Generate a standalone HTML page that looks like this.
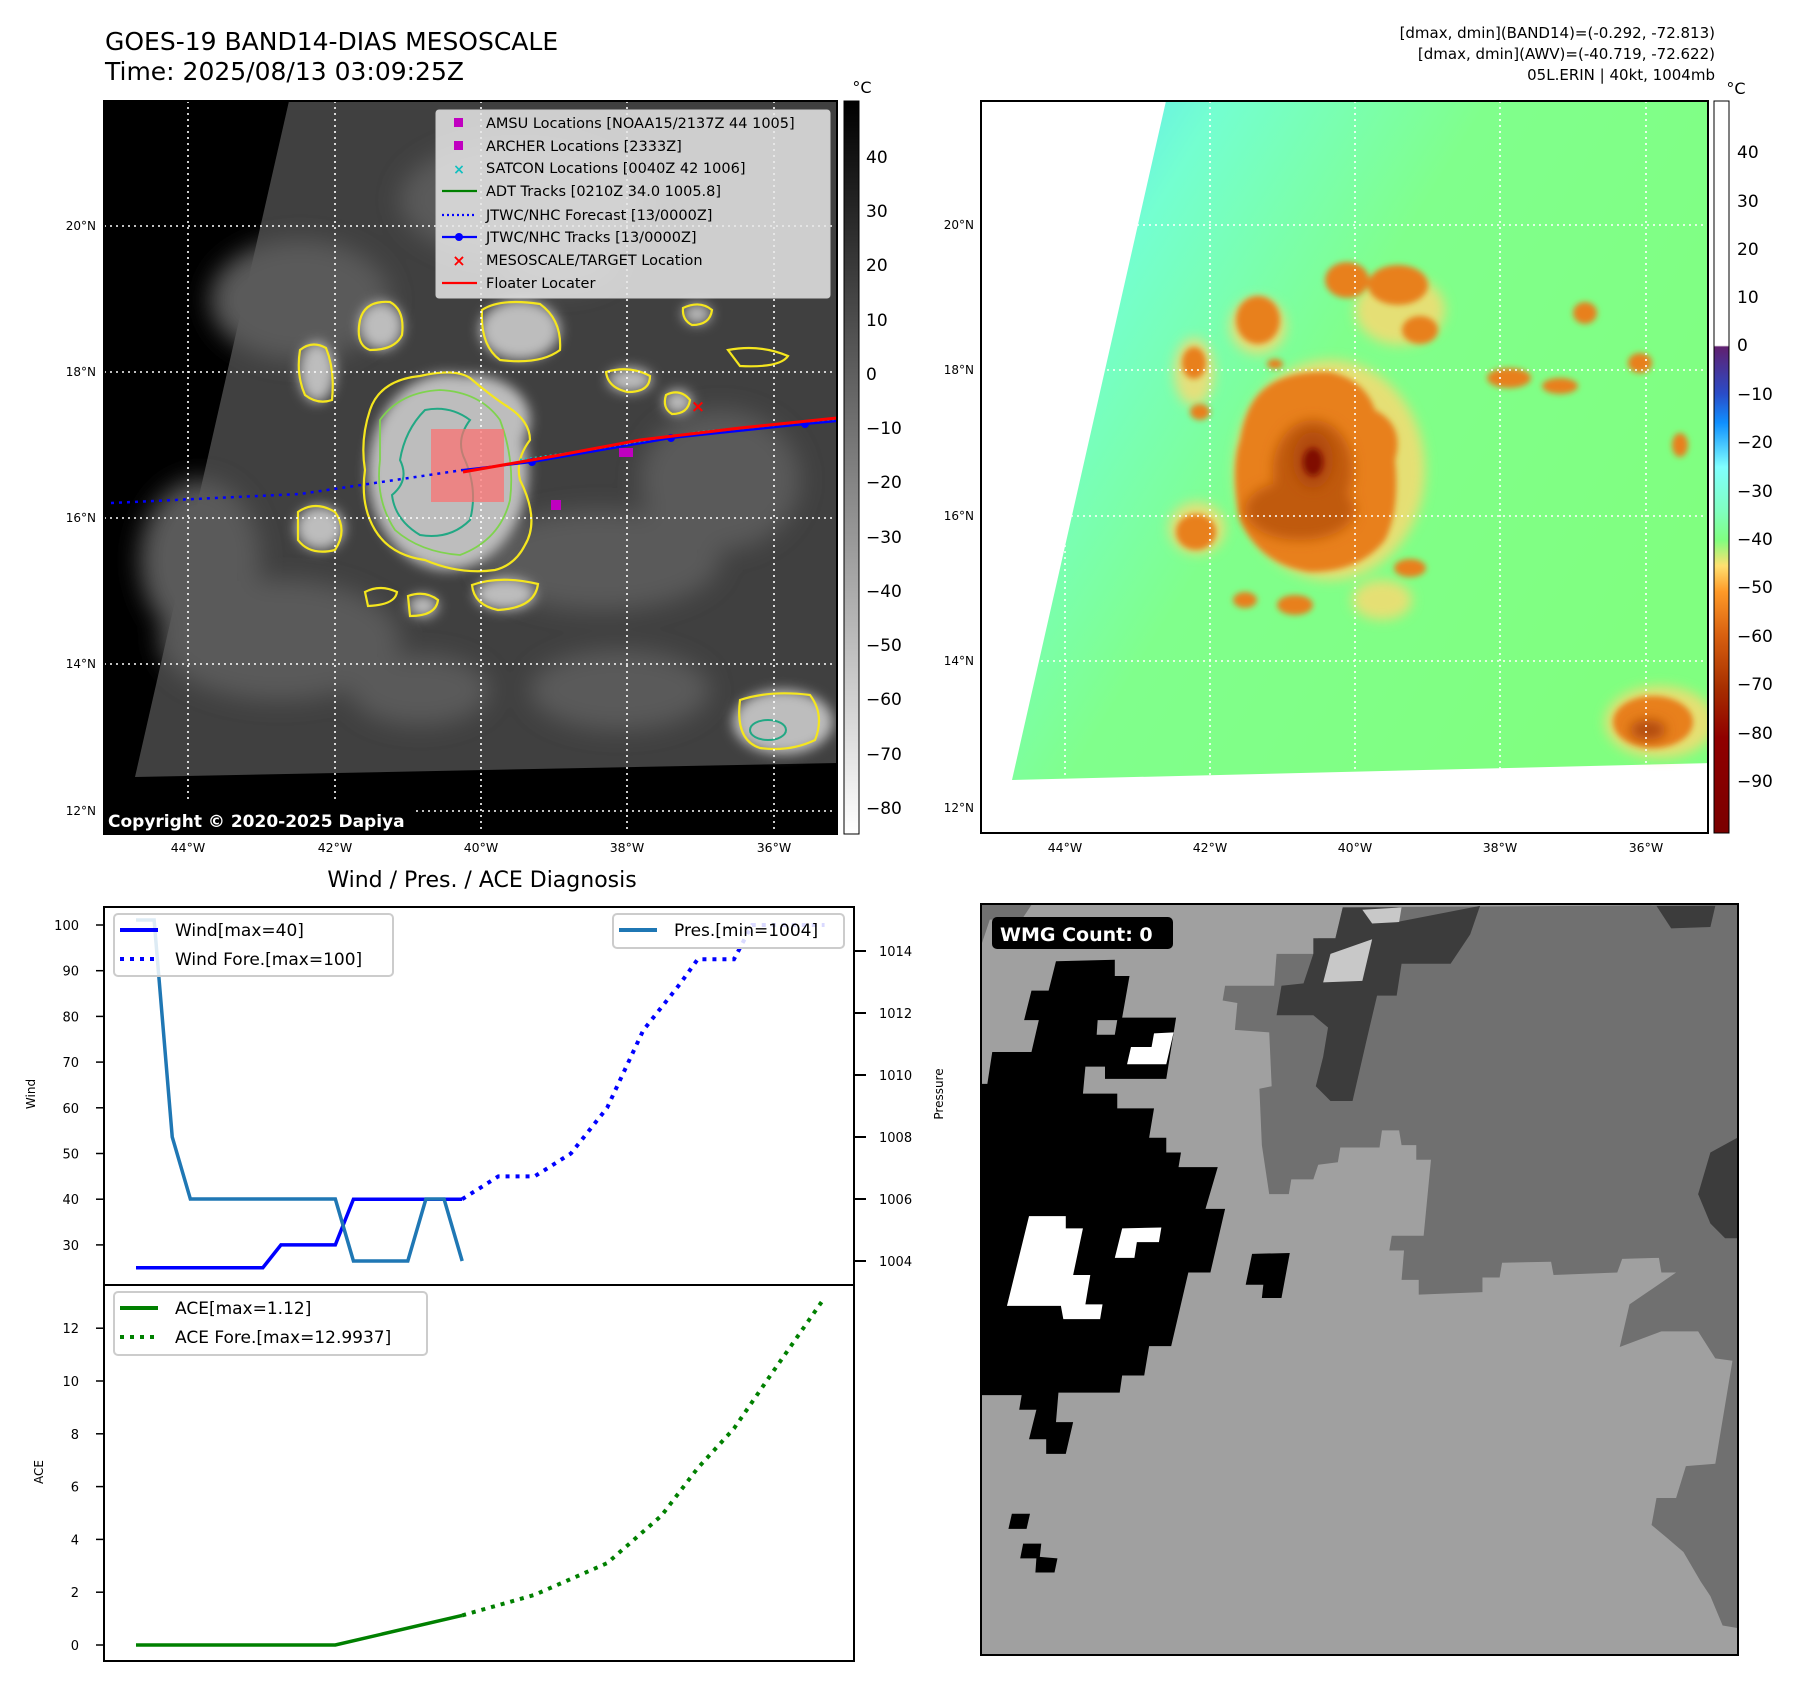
<!DOCTYPE html>
<html><head><meta charset="utf-8">
<style>
html,body{margin:0;padding:0;background:#fff;}
svg{display:block;font-family:"DejaVu Sans","Liberation Sans",sans-serif;}
</style></head>
<body>
<svg id="fig" width="1797" height="1690" viewBox="0 0 1797 1690" xmlns="http://www.w3.org/2000/svg">
<defs>
  <filter id="blur6" x="-50%" y="-50%" width="200%" height="200%"><feGaussianBlur stdDeviation="6"/></filter>
  <filter id="blur12" x="-50%" y="-50%" width="200%" height="200%"><feGaussianBlur stdDeviation="12"/></filter>
  <filter id="blur3" x="-50%" y="-50%" width="200%" height="200%"><feGaussianBlur stdDeviation="3"/></filter>
  <linearGradient id="cbL" x1="0" y1="0" x2="0" y2="1">
    <stop offset="0" stop-color="#000"/><stop offset="1" stop-color="#fff"/>
  </linearGradient>
  <linearGradient id="cbR" x1="0" y1="0" x2="0" y2="1">
    <stop offset="0" stop-color="#fff"/><stop offset="0.334" stop-color="#fff"/>
    <stop offset="0.336" stop-color="#602070"/><stop offset="0.40" stop-color="#2a4cc8"/>
    <stop offset="0.44" stop-color="#1090ff"/><stop offset="0.50" stop-color="#80ffff"/>
    <stop offset="0.56" stop-color="#80ffc0"/><stop offset="0.60" stop-color="#80ff80"/>
    <stop offset="0.635" stop-color="#ffe070"/><stop offset="0.67" stop-color="#ff9a28"/>
    <stop offset="0.73" stop-color="#d86010"/><stop offset="0.80" stop-color="#a83000"/>
    <stop offset="0.87" stop-color="#900000"/><stop offset="1" stop-color="#7a0000"/>
  </linearGradient>
  <linearGradient id="ocean" x1="0" y1="0" x2="1" y2="0.6">
    <stop offset="0" stop-color="#58dcff"/><stop offset="0.22" stop-color="#74ffd0"/>
    <stop offset="0.5" stop-color="#80ff8c"/><stop offset="1" stop-color="#80ff80"/>
  </linearGradient>
  <clipPath id="clipL"><rect x="104" y="101" width="733" height="733"/></clipPath>
  <clipPath id="clipR"><rect x="981" y="101" width="727" height="732"/></clipPath>
  <clipPath id="clipW"><rect x="981" y="904" width="757" height="751"/></clipPath>
</defs>

<!-- Titles -->
<text x="105" y="50" font-size="25">GOES-19 BAND14-DIAS MESOSCALE</text>
<text x="105" y="80" font-size="25">Time: 2025/08/13 03:09:25Z</text>
<g font-size="15" text-anchor="end">
  <text x="1715" y="38">[dmax, dmin](BAND14)=(-0.292, -72.813)</text>
  <text x="1715" y="59">[dmax, dmin](AWV)=(-40.719, -72.622)</text>
  <text x="1715" y="80">05L.ERIN | 40kt, 1004mb</text>
</g>

<!-- LEFT MAP -->
<g clip-path="url(#clipL)">
  <rect x="104" y="101" width="733" height="733" fill="#000"/>
  <polygon points="289,101 837,101 837,763 135,777" fill="#404040"/>
  <g filter="url(#blur12)" fill="#5a5a5a">
    <ellipse cx="300" cy="300" rx="90" ry="60"/><ellipse cx="600" cy="560" rx="120" ry="50"/>
    <ellipse cx="280" cy="640" rx="120" ry="60"/><ellipse cx="620" cy="690" rx="90" ry="40"/>
    <ellipse cx="520" cy="200" rx="120" ry="60"/><ellipse cx="720" cy="480" rx="80" ry="70"/>
    <ellipse cx="200" cy="560" rx="60" ry="80"/>
    <ellipse cx="560" cy="260" rx="60" ry="30"/><ellipse cx="420" cy="690" rx="70" ry="35"/>
  </g>
  <g filter="url(#blur6)" fill="#bdbdbd">
    <ellipse cx="448" cy="472" rx="80" ry="98"/><ellipse cx="470" cy="420" rx="60" ry="45"/>
    <ellipse cx="381" cy="326" rx="22" ry="24"/><ellipse cx="520" cy="330" rx="40" ry="30"/>
    <ellipse cx="317" cy="372" rx="18" ry="30"/><ellipse cx="320" cy="528" rx="24" ry="22"/>
    <ellipse cx="783" cy="722" rx="50" ry="32"/><ellipse cx="630" cy="380" rx="22" ry="12"/>
    <ellipse cx="678" cy="402" rx="14" ry="12"/><ellipse cx="697" cy="314" rx="14" ry="10"/>
    <ellipse cx="505" cy="594" rx="30" ry="16"/><ellipse cx="423" cy="606" rx="15" ry="11"/>
  </g>
  <g fill="none" stroke="#f5e61e" stroke-width="2.2">
    <path d="M370,410 Q380,380 420,376 Q455,368 470,378 Q490,395 505,405 Q530,420 530,440 Q515,460 520,480 Q540,520 525,545 Q515,565 495,570 Q460,575 425,560 Q390,555 375,530 Q360,505 365,470 Q360,440 370,410Z"/>
    <path d="M360,320 Q365,300 390,302 Q405,310 402,335 Q395,350 370,350 Q355,345 360,320Z"/>
    <path d="M482,310 Q500,298 540,304 Q562,320 560,350 Q540,365 500,360 Q480,345 482,310Z"/>
    <path d="M300,350 Q312,340 326,348 Q335,370 332,400 Q318,405 305,395 Q296,375 300,350Z"/>
    <path d="M298,512 Q315,500 335,512 Q348,530 335,550 Q310,556 298,540Z"/>
    <path d="M740,700 Q770,690 810,695 Q825,715 815,740 Q790,752 760,748 Q735,740 740,700Z"/>
    <path d="M606,372 Q630,365 650,376 Q650,392 628,392 Q608,388 606,372Z"/>
    <path d="M666,395 Q680,388 690,400 Q688,414 672,414 Q662,408 666,395Z"/>
    <path d="M683,308 Q700,300 712,310 Q710,325 692,325 Q682,320 683,308Z"/>
    <path d="M728,350 Q760,344 788,356 Q780,368 740,366Z"/>
    <path d="M365,592 Q380,584 397,592 Q395,605 368,606Z"/>
    <path d="M408,596 Q425,590 438,600 Q436,616 410,616Z"/>
    <path d="M472,585 Q500,575 538,584 Q535,608 498,610 Q474,605 472,585Z"/>
  </g>
  <g fill="none" stroke="#7fd34e" stroke-width="1.8">
    <path d="M380,420 Q400,392 440,390 Q480,392 500,420 Q515,460 510,500 Q500,540 460,555 Q420,552 395,530 Q375,500 380,460Z"/>
  </g>
  <g fill="none" stroke="#22a884" stroke-width="2">
    <path d="M425,410 Q450,405 470,420 Q455,440 465,460 Q478,490 470,520 Q450,540 420,535 Q395,520 392,495 Q410,480 400,460 Q405,430 425,410Z"/>
    <ellipse cx="768" cy="730" rx="18" ry="10"/>
  </g>
  <g stroke="#fff" stroke-width="1.6" stroke-dasharray="2,4">
    <line x1="188" y1="101" x2="188" y2="834"/><line x1="335" y1="101" x2="335" y2="834"/>
    <line x1="481" y1="101" x2="481" y2="834"/><line x1="627" y1="101" x2="627" y2="834"/>
    <line x1="774" y1="101" x2="774" y2="834"/>
    <line x1="104" y1="226" x2="837" y2="226"/><line x1="104" y1="372" x2="837" y2="372"/>
    <line x1="104" y1="518" x2="837" y2="518"/><line x1="104" y1="664" x2="837" y2="664"/>
    <line x1="104" y1="811" x2="837" y2="811"/>
  </g>
  <rect x="431" y="429" width="73" height="73" fill="rgb(255,110,110)" fill-opacity="0.7"/>
  <polyline points="111,503 300,494 463,470" fill="none" stroke="#0000ff" stroke-width="2.5" stroke-dasharray="3,5"/>
  <polyline points="520,460 620,446 700,432 837,419" fill="none" stroke="#10c0c0" stroke-width="2.5" stroke-dasharray="2,3"/>
  <polyline points="463,470 532,462 671,438 805,424 837,421" fill="none" stroke="#0000ff" stroke-width="2.2"/>
  <g fill="#0000ff"><circle cx="532" cy="462" r="4"/><circle cx="671" cy="438" r="4"/><circle cx="805" cy="424" r="4"/></g>
  <polyline points="463,472 560,455 640,440 740,428 837,418" fill="none" stroke="#ff0000" stroke-width="3"/>
  <rect x="551" y="500" width="10" height="10" fill="#c000c0"/>
  <rect x="619" y="448" width="14" height="9" fill="#c000c0"/>
  <text x="698" y="412" font-size="17" font-weight="bold" fill="#ff0000" text-anchor="middle">×</text>
  <g>
    <rect x="436" y="110" width="394" height="188" rx="3" fill="#e8e8e8" fill-opacity="0.85" stroke="#ccc"/>
    <g font-size="14.5" fill="#000">
      <rect x="454" y="118" width="9" height="9" fill="#c000c0"/><text x="486" y="128">AMSU Locations [NOAA15/2137Z 44 1005]</text>
      <rect x="454" y="141" width="9" height="9" fill="#c000c0"/><text x="486" y="151">ARCHER Locations [2333Z]</text>
      <text x="459" y="174" font-size="14" font-weight="bold" fill="#10c0c0" text-anchor="middle">×</text><text x="486" y="173">SATCON Locations [0040Z 42 1006]</text>
      <line x1="442" y1="191" x2="477" y2="191" stroke="#008000" stroke-width="2.2"/><text x="486" y="196">ADT Tracks [0210Z 34.0 1005.8]</text>
      <line x1="442" y1="215" x2="477" y2="215" stroke="#0000ff" stroke-width="2.2" stroke-dasharray="2,3"/><text x="486" y="220">JTWC/NHC Forecast [13/0000Z]</text>
      <line x1="442" y1="237" x2="477" y2="237" stroke="#0000ff" stroke-width="2.2"/><circle cx="459" cy="237" r="4" fill="#0000ff"/><text x="486" y="242">JTWC/NHC Tracks [13/0000Z]</text>
      <text x="459" y="266" font-size="16" font-weight="bold" fill="#ff0000" text-anchor="middle">×</text><text x="486" y="265">MESOSCALE/TARGET Location</text>
      <line x1="442" y1="283" x2="477" y2="283" stroke="#ff0000" stroke-width="2.2"/><text x="486" y="288">Floater Locater</text>
    </g>
  </g>
  <rect x="102" y="803" width="311" height="30" rx="4" fill="#000"/>
  <text x="108" y="827" font-size="17" font-weight="bold" fill="#fff">Copyright © 2020-2025 Dapiya</text>
</g>
<rect x="104" y="101" width="733" height="733" fill="none" stroke="#000" stroke-width="2"/>
<g font-size="12" text-anchor="end">
  <text x="96" y="230">20°N</text><text x="96" y="376">18°N</text><text x="96" y="522">16°N</text><text x="96" y="668">14°N</text><text x="96" y="815">12°N</text>
</g>
<g font-size="12.5" text-anchor="middle">
  <text x="188" y="852">44°W</text><text x="335" y="852">42°W</text><text x="481" y="852">40°W</text><text x="627" y="852">38°W</text><text x="774" y="852">36°W</text>
</g>
<g>
  <rect x="844" y="101" width="15" height="733" fill="url(#cbL)" stroke="#000" stroke-width="1"/>
  <text x="862" y="93" font-size="16" text-anchor="middle">°C</text>
  <g font-size="17">
    <text x="866" y="163">40</text><text x="866" y="217">30</text><text x="866" y="271">20</text><text x="866" y="326">10</text>
    <text x="866" y="380">0</text><text x="866" y="434">−10</text><text x="866" y="488">−20</text><text x="866" y="543">−30</text>
    <text x="866" y="597">−40</text><text x="866" y="651">−50</text><text x="866" y="705">−60</text><text x="866" y="760">−70</text><text x="866" y="814">−80</text>
  </g>
</g>

<!-- RIGHT MAP -->
<g clip-path="url(#clipR)">
  <rect x="981" y="101" width="727" height="732" fill="#fff"/>
  <polygon points="1166,101 1714,101 1714,763 1012,780" fill="url(#ocean)"/>
  <g filter="url(#blur6)" fill="#ffd870" opacity="0.8">
    <ellipse cx="1330" cy="470" rx="95" ry="110"/><ellipse cx="1258" cy="326" rx="28" ry="28"/>
    <ellipse cx="1400" cy="310" rx="45" ry="35"/><ellipse cx="1194" cy="372" rx="20" ry="34"/>
    <ellipse cx="1197" cy="528" rx="28" ry="26"/><ellipse cx="1660" cy="722" rx="55" ry="36"/>
    <ellipse cx="1382" cy="600" rx="30" ry="20"/>
  </g>
  <g filter="url(#blur3)" fill="#e8801c">
    <path d="M1258,395 Q1280,370 1330,372 Q1365,380 1375,410 Q1405,425 1395,460 Q1400,510 1385,540 Q1360,572 1310,572 Q1260,565 1240,520 Q1230,470 1240,440 Q1245,410 1258,395Z"/>
    <ellipse cx="1258" cy="320" rx="22" ry="24"/><ellipse cx="1194" cy="363" rx="12" ry="16"/>
    <ellipse cx="1196" cy="532" rx="20" ry="18"/><ellipse cx="1653" cy="722" rx="40" ry="26"/>
    <ellipse cx="1200" cy="412" rx="10" ry="8"/><ellipse cx="1275" cy="364" rx="8" ry="5"/>
    <ellipse cx="1410" cy="568" rx="16" ry="9"/><ellipse cx="1295" cy="605" rx="18" ry="10"/>
    <ellipse cx="1245" cy="600" rx="12" ry="8"/><ellipse cx="1509" cy="378" rx="22" ry="10"/>
    <ellipse cx="1560" cy="386" rx="18" ry="8"/><ellipse cx="1585" cy="313" rx="12" ry="11"/>
    <ellipse cx="1640" cy="363" rx="12" ry="10"/><ellipse cx="1398" cy="285" rx="30" ry="20"/>
    <ellipse cx="1347" cy="280" rx="22" ry="18"/><ellipse cx="1680" cy="445" rx="8" ry="12"/>
    <ellipse cx="1420" cy="330" rx="18" ry="14"/>
  </g>
  <g filter="url(#blur6)" fill="#c05a10">
    <ellipse cx="1313" cy="470" rx="40" ry="50"/><ellipse cx="1300" cy="510" rx="55" ry="30"/>
  </g>
  <g filter="url(#blur6)" fill="#b04a0c">
    <ellipse cx="1313" cy="460" rx="20" ry="28"/><ellipse cx="1648" cy="730" rx="18" ry="10"/>
  </g>
  <ellipse cx="1313" cy="462" rx="10" ry="14" fill="#800800" filter="url(#blur3)"/>
  <g stroke="#fff" stroke-width="1.6" stroke-dasharray="2,4">
    <line x1="1065" y1="101" x2="1065" y2="833"/><line x1="1210" y1="101" x2="1210" y2="833"/>
    <line x1="1355" y1="101" x2="1355" y2="833"/><line x1="1500" y1="101" x2="1500" y2="833"/>
    <line x1="1646" y1="101" x2="1646" y2="833"/>
    <line x1="981" y1="225" x2="1708" y2="225"/><line x1="981" y1="370" x2="1708" y2="370"/>
    <line x1="981" y1="516" x2="1708" y2="516"/><line x1="981" y1="661" x2="1708" y2="661"/>
    <line x1="981" y1="808" x2="1708" y2="808"/>
  </g>
</g>
<rect x="981" y="101" width="727" height="732" fill="none" stroke="#000" stroke-width="2"/>
<g font-size="12" text-anchor="end">
  <text x="974" y="229">20°N</text><text x="974" y="374">18°N</text><text x="974" y="520">16°N</text><text x="974" y="665">14°N</text><text x="974" y="812">12°N</text>
</g>
<g font-size="12.5" text-anchor="middle">
  <text x="1065" y="852">44°W</text><text x="1210" y="852">42°W</text><text x="1355" y="852">40°W</text><text x="1500" y="852">38°W</text><text x="1646" y="852">36°W</text>
</g>
<g>
  <rect x="1714" y="101" width="15" height="732" fill="url(#cbR)" stroke="#000" stroke-width="1"/>
  <text x="1736" y="94" font-size="16" text-anchor="middle">°C</text>
  <g font-size="17">
    <text x="1737" y="158">40</text><text x="1737" y="207">30</text><text x="1737" y="255">20</text><text x="1737" y="303">10</text>
    <text x="1737" y="351">0</text><text x="1737" y="400">−10</text><text x="1737" y="448">−20</text><text x="1737" y="497">−30</text>
    <text x="1737" y="545">−40</text><text x="1737" y="593">−50</text><text x="1737" y="642">−60</text><text x="1737" y="690">−70</text>
    <text x="1737" y="739">−80</text><text x="1737" y="787">−90</text>
  </g>
</g>

<text x="482" y="887" font-size="22" text-anchor="middle">Wind / Pres. / ACE Diagnosis</text>

<g id="windChart"></g>
<g id="aceChart"></g>

<!-- WMG panel -->
<g clip-path="url(#clipW)">
  <rect x="981" y="904" width="757" height="751" fill="#a0a0a0"/>
  <g transform="translate(980,900) scale(0.4902)">
    <polygon fill="#707070" points="500,175 600,175 605,110 680,110 690,78 725,78 740,15 1545,10 1545,1485 1515,1480 1490,1420 1470,1390 1435,1330 1400,1300 1370,1275 1380,1220 1420,1220 1440,1155 1500,1150 1535,940 1500,935 1465,880 1390,880 1305,912 1325,825 1420,760 1390,760 1385,730 1310,732 1300,760 1170,765 1165,738 1065,740 1060,770 1025,770 1025,800 895,805 895,775 860,775 865,715 835,715 840,685 905,685 920,530 890,530 890,500 860,500 855,470 820,470 815,505 735,505 730,535 690,540 680,570 635,570 630,600 590,600 575,500 570,385 595,380 590,270 520,265 525,210 495,205"/>
    <polygon fill="#3c3c3c" points="680,78 725,78 740,15 860,15 850,45 1020,12 1000,70 960,130 860,130 850,195 810,195 790,280 760,410 715,410 685,380 700,320 710,260 680,235 605,235 615,175 660,170 680,110"/>
    <polygon fill="#c8c8c8" points="780,20 860,15 855,45 800,48"/>
    <polygon fill="#c8c8c8" points="715,110 800,80 780,165 700,168"/>
    <polygon fill="#3c3c3c" points="1490,515 1545,485 1545,690 1520,690 1490,660 1465,600"/>
    <polygon fill="#3c3c3c" points="1380,12 1500,12 1490,55 1410,58"/>
    <polygon fill="#707070" points="0,10 105,10 85,40 20,40 0,100"/>
    <polygon fill="#000" points="155,125 275,122 275,155 305,155 290,240 400,240 380,365 255,365 255,340 215,340 210,395 280,395 280,425 355,425 345,485 380,485 380,515 410,515 405,545 485,545 460,630 500,630 470,760 425,760 390,910 345,910 335,970 290,970 285,1005 160,1005 155,1065 190,1065 175,1130 135,1130 135,1100 100,1100 115,1040 80,1040 85,1010 0,1010 0,375 15,375 25,310 105,310 120,245 90,245 105,185 140,185"/>
    <polygon fill="#a0a0a0" points="240,245 280,245 275,275 238,275"/>
    <polygon fill="#fff" points="100,645 175,645 175,670 210,670 190,765 225,765 215,825 250,825 245,855 170,855 165,828 55,828"/>
    <polygon fill="#fff" points="290,670 370,668 365,698 320,698 315,730 275,730"/>
    <polygon fill="#fff" points="355,272 395,270 380,335 300,335 308,300 350,300"/>
    <polygon fill="#000" points="555,722 632,720 615,812 575,812 578,785 542,785"/>
    <polygon fill="#000" points="65,1252 102,1252 95,1283 58,1283"/>
    <polygon fill="#000" points="88,1313 125,1313 122,1340 158,1343 152,1372 113,1372 115,1343 82,1343"/>
  </g>
  <rect x="992" y="917" width="181" height="32" rx="5" fill="#000"/>
  <text x="1000" y="941" font-size="19" font-weight="bold" fill="#fff">WMG Count: 0</text>
</g>
<rect x="981" y="904" width="757" height="751" fill="none" stroke="#000" stroke-width="2"/>

<script>
var obsHours = [0,6,12,18,24,30,36,42,48,54,60,66,72,78,84,90,96,102,108];
var windObs = [25,25,25,25,25,25,25,25,30,30,30,30,40,40,40,40,40,40,40];
var presObs = [1015,1015,1008,1006,1006,1006,1006,1006,1006,1006,1006,1006,1004,1004,1004,1004,1006,1006,1004];
var foreHours = [108,120,132,144,156,168,180,186,198,204,228];
var windFore = [40,45,45,50,60,77,87,92.5,92.5,100,100];
var aceObsHours = [0,66,108];
var aceObs = [0,0,1.12];
var aceForeHours = [108,132,156,174,186,198,210,227];
var aceFore = [1.12,1.9,3.1,4.9,6.7,8.2,10.2,12.99];
var windTicks = [30,40,50,60,70,80,90,100];
var presTicks = [1004,1006,1008,1010,1012,1014];
var aceTicks = [0,2,4,6,8,10,12];

var NS = "http://www.w3.org/2000/svg";
function xh(h){ return 136 + h*3.02; }
function yWind(v){ return 925 + (100 - v)*4.57; }
function yPres(p){ return 1261 - (p - 1004)*31; }
function yAce(v){ return 1645 - v*26.4; }
function mk(parent, tag, attrs){
  var e = document.createElementNS(NS, tag);
  for (var k in attrs) e.setAttribute(k, attrs[k]);
  parent.appendChild(e); return e;
}
function pts(xs, ys, fy){ return xs.map(function(h,i){ return xh(h)+","+fy(ys[i]); }).join(" "); }

var wc = document.getElementById('windChart');
var ac = document.getElementById('aceChart');
var clipW = mk(wc,'clipPath',{id:'cw'}); mk(clipW,'rect',{x:104,y:907,width:750,height:378});
var clipA = mk(ac,'clipPath',{id:'ca'}); mk(clipA,'rect',{x:104,y:1285,width:750,height:376});

windTicks.forEach(function(t){
  var y = yWind(t);
  var l = mk(wc,'line',{x1:96,y1:y,x2:104,y2:y,stroke:'#000','stroke-width':1.5});
  
  
  var tx = mk(wc,'text',{x:79,y:y+5,'font-size':13,'text-anchor':'end'});
  tx.textContent = t;
  
  
});
presTicks.forEach(function(t){
  var y = yPres(t);
  var l = mk(wc,'line',{x1:854,y1:y,x2:866,y2:y,stroke:'#000','stroke-width':2});
  
  
  var tx = mk(wc,'text',{x:879,y:y+5,'font-size':13});
  tx.textContent = t;
  
  
});
aceTicks.forEach(function(t){
  var y = yAce(t);
  var l = mk(ac,'line',{x1:96,y1:y,x2:104,y2:y,stroke:'#000','stroke-width':1.5});
  
  
  var tx = mk(ac,'text',{x:79,y:y+5,'font-size':13,'text-anchor':'end'});
  tx.textContent = t;
  
  
});
var yl = mk(wc,'text',{x:0,y:0,'font-size':12,'text-anchor':'middle',transform:'translate(35,1094) rotate(-90)'});
yl.textContent='Wind';


var pl = mk(wc,'text',{x:0,y:0,'font-size':12,'text-anchor':'middle',transform:'translate(943,1094) rotate(-90)'});
pl.textContent='Pressure';


var al = mk(ac,'text',{x:0,y:0,'font-size':12,'text-anchor':'middle',transform:'translate(43,1472) rotate(-90)'});
al.textContent='ACE';



var gW = mk(wc,'g',{'clip-path':'url(#cw)'});
var s1 = mk(gW,'polyline',{points:pts(obsHours,windObs,yWind),fill:'none',stroke:'#0000ff','stroke-width':3.5});


var s2 = mk(gW,'polyline',{points:pts(foreHours,windFore,yWind),fill:'none',stroke:'#0000ff','stroke-width':4,'stroke-dasharray':'4,6'});


var s3 = mk(gW,'polyline',{points:pts(obsHours,presObs,yPres),fill:'none',stroke:'#1f77b4','stroke-width':3.5});


var gA = mk(ac,'g',{'clip-path':'url(#ca)'});
var s4 = mk(gA,'polyline',{points:pts(aceObsHours,aceObs,yAce),fill:'none',stroke:'#008000','stroke-width':3.5});


var s5 = mk(gA,'polyline',{points:pts(aceForeHours,aceFore,yAce),fill:'none',stroke:'#008000','stroke-width':4,'stroke-dasharray':'4,6'});



mk(wc,'rect',{x:104,y:907,width:750,height:378,fill:'none',stroke:'#000','stroke-width':2});
mk(ac,'rect',{x:104,y:1285,width:750,height:376,fill:'none',stroke:'#000','stroke-width':2});

function legend(parent, x, y, w, h, items, name){
  var g = mk(parent,'g',{});
  
  
  mk(g,'rect',{x:x,y:y,width:w,height:h,rx:4,fill:'#fff','fill-opacity':0.85,stroke:'#ccc','stroke-width':2});
  items.forEach(function(it,i){
    var cy = y + 16 + i*29;
    var a = {x1:x+6,y1:cy,x2:x+44,y2:cy,stroke:it.c,'stroke-width':4};
    if (it.d) a['stroke-dasharray']='4,6';
    mk(g,'line',a);
    var t = mk(g,'text',{x:x+61,y:cy+6,'font-size':17});
    t.textContent = it.t;
  });
}
legend(wc,114,914,279,62,[{c:'#0000ff',t:'Wind[max=40]'},{c:'#0000ff',t:'Wind Fore.[max=100]',d:1}],'wind-legend');
legend(wc,613,914,231,34,[{c:'#1f77b4',t:'Pres.[min=1004]'}],'pressure-legend');
legend(ac,114,1292,313,63,[{c:'#008000',t:'ACE[max=1.12]'},{c:'#008000',t:'ACE Fore.[max=12.9937]',d:1}],'ace-legend');
</script>
</svg>
</body></html>
